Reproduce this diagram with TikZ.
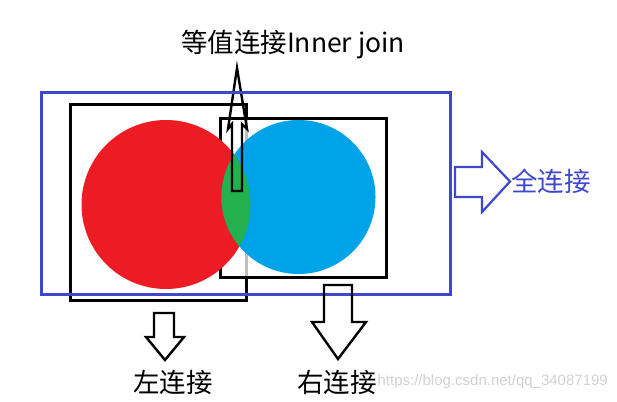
\documentclass[tikz,border=0pt]{standalone}
\usepackage{fontspec}
\newfontfamily\cjk{Noto Sans CJK SC}
\newfontfamily\wmfont{Liberation Sans}
\definecolor{paintred}{HTML}{ED1C24}
\definecolor{paintblue}{HTML}{00A2E8}
\definecolor{paintgreen}{HTML}{22B14C}
\definecolor{indigo}{HTML}{3F48CC}
\tikzset{
  box/.style={draw=black, line width=3pt},
  fullbox/.style={draw=indigo, line width=3pt},
  blockarrow/.style={line width=2.4pt, line join=miter},
  jointext/.style={font=\cjk\fontsize{26.5}{30}\selectfont, inner sep=0pt},
  wm/.style={font=\wmfont\fontsize{15}{18}\selectfont, text=black!18, inner sep=0pt},
}
\begin{document}
\begin{tikzpicture}[x=1pt,y=-1pt]
\useasboundingbox (0,0) rectangle (617,401);
\coordinate (L1) at (70,104);
\coordinate (L2) at (246,300);
\coordinate (R1) at (220,118);
\coordinate (R2) at (386,277);
\coordinate (F1) at (41,93);
\coordinate (F2) at (450,294);
\coordinate (A) at (166,204.5); %red
\coordinate (B) at (298.5,197); %blue

\draw[box] (L1) rectangle (L2);
\fill[white, opacity=.75] (R1) rectangle (R2);
\draw[box] (R1) rectangle (R2);

\fill[paintred] (A) circle (84.5pt);
\fill[paintblue] (B) circle (77pt);
\begin{scope}
\clip (A) circle (84.5pt);
\fill[paintgreen] (B) circle (77pt);
\end{scope}

\draw[blockarrow] (232,191) -- (232,124) -- (228,129) -- (237,68) -- (247,129) -- (242,124) -- (242,191) -- cycle;
\draw[fullbox] (F1) rectangle (F2);

\draw[blockarrow, draw=indigo, line width=2.2pt] (455,167) -- (482,167) -- (482,152) -- (510,181.5) -- (482,212) -- (482,197) -- (455,197) -- cycle;
\draw[blockarrow] (154,313) -- (174,313) -- (174,337) -- (184,337) -- (165,360) -- (146,337) -- (154,337) -- cycle;
\draw[blockarrow] (324,285) -- (352,285) -- (352,322) -- (366,322) -- (338,359) -- (312,322) -- (324,322) -- cycle;

\node[jointext] (inner) at (293,45) {等值连接Inner join};
\node[jointext, text=indigo, anchor=west] (full) at (511,181) {全连接};
\node[jointext] (left) at (173,382) {左连接};
\node[jointext] (right) at (337,382) {右连接};
\node[wm, anchor=east] (mark) at (608,382) {https://blog.csdn.net/qq\_34087199};
\end{tikzpicture}
\end{document}
